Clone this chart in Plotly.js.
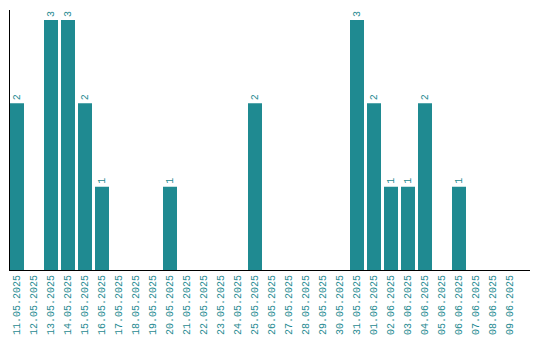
<!DOCTYPE html>
<html><head><meta charset="utf-8">
<script src="https://cdn.plot.ly/plotly-3.0.1.min.js"></script>
<style>html,body{margin:0;padding:0;background:#fff}#c{width:540px;height:340px}</style>
</head><body><div id="c"></div>
<script>
const categories = ["11.05.2025","12.05.2025","13.05.2025","14.05.2025","15.05.2025","16.05.2025","17.05.2025","18.05.2025","19.05.2025","20.05.2025","21.05.2025","22.05.2025","23.05.2025","24.05.2025","25.05.2025","26.05.2025","27.05.2025","28.05.2025","29.05.2025","30.05.2025","31.05.2025","01.06.2025","02.06.2025","03.06.2025","04.06.2025","05.06.2025","06.06.2025","07.06.2025","08.06.2025","09.06.2025"];
const values = [2,0,3,3,2,1,0,0,0,1,0,0,0,0,2,0,0,0,0,0,3,2,1,1,2,0,1,0,0,0];
const labels = values.map(v => v > 0 ? String(v) : "");
const teal = "#1f8a91";
const fam = "Liberation Mono";
Plotly.newPlot("c", [{
  type: "bar",
  x: categories.map((c,i)=>i),
  y: values,
  text: labels,
  textposition: "outside",
  textangle: -90,
  cliponaxis: false,
  textfont: {family: fam, size: 10, color: teal},
  marker: {color: teal},
  width: 14/17,
  hoverinfo: "none"
}], {
  width: 540, height: 340,
  margin: {l: 10, r: 10, t: 10, b: 70},
  paper_bgcolor: "#fff", plot_bgcolor: "#fff",
  showlegend: false,
  font: {family: fam, size: 10, color: teal},
  xaxis: {
    range: [-7/17, 513/17],
    tickmode: "array",
    tickvals: categories.map((c,i)=>i),
    ticktext: categories,
    tickangle: -90,
    ticks: "",
    showgrid: false, zeroline: false,
    showline: true, linecolor: "#000", linewidth: 1,
    tickfont: {family: fam, size: 10, color: teal}
  },
  yaxis: {
    range: [0, 3.12],
    showticklabels: false, ticks: "",
    showgrid: false, zeroline: false,
    showline: true, linecolor: "#000", linewidth: 1
  }
}, {staticPlot: true});
</script></body></html>
